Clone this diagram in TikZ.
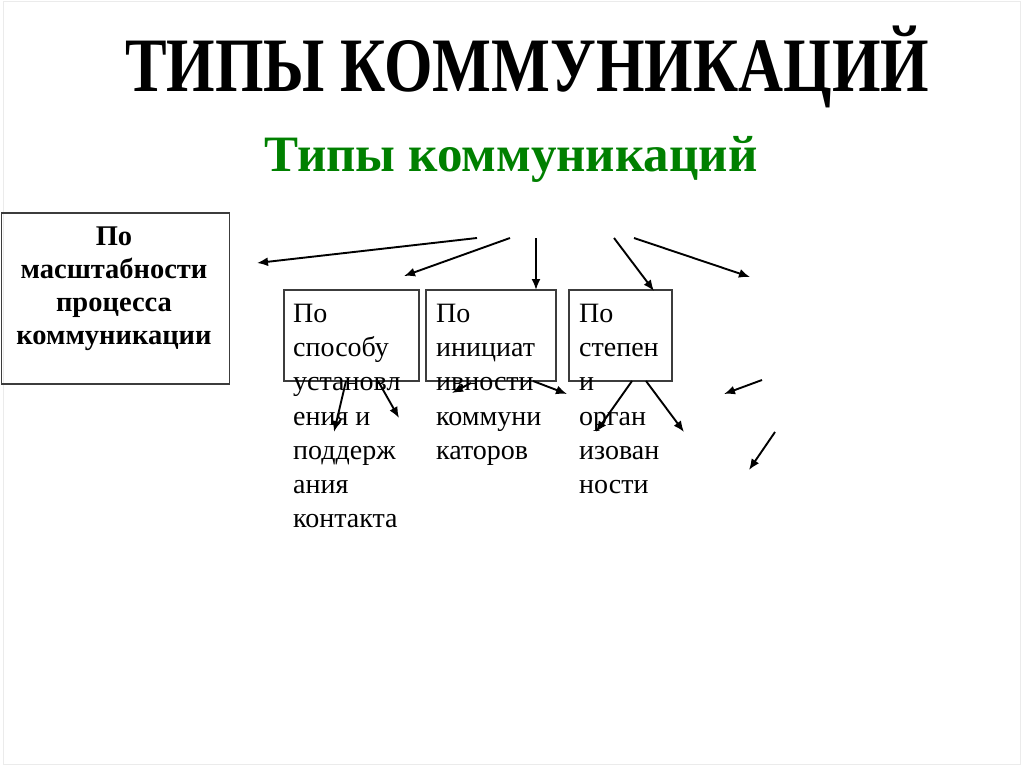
\documentclass[tikz,border=0pt]{standalone}
\usepackage{fontspec}
\setmainfont{Liberation Serif}
\newfontfamily\titlefont{Liberation Serif}[FakeStretch=0.81]
\usetikzlibrary{arrows.meta}
\definecolor{subgreen}{RGB}{0,128,0}
\definecolor{boxline}{RGB}{60,60,60}
\tikzset{
  catbox/.style={draw=boxline, line width=1.8pt, anchor=north west, inner sep=0pt},
  boxtext/.style={font=\fontsize{28}{34.2}\selectfont, align=left, anchor=north west, inner sep=0pt},
  arr/.style={line width=1.9pt, -{Latex[length=11pt,width=9pt]}}
}
\begin{document}
\begin{tikzpicture}[x=1pt,y=-1pt]
\useasboundingbox (0,0) rectangle (1024,767);
\fill[white] (0,0) rectangle (1024,767);
\draw[black!8, line width=1pt] (3,2) rectangle (1020,764);

\node[font=\titlefont\bfseries\fontsize{77}{77}\selectfont, anchor=base] (title) at (527,92) {ТИПЫ КОММУНИКАЦИЙ};
\node[font=\bfseries\fontsize{51}{51}\selectfont, text=subgreen, anchor=base] (sub) at (511,172) {Типы коммуникаций};

% boxes
\node[catbox, minimum width=228pt, minimum height=171pt] (b1) at (0.5,212) {};
\node[catbox, minimum width=135pt, minimum height=91pt] (b2) at (283,289) {};
\node[catbox, minimum width=130pt, minimum height=91pt] (b3) at (425,289) {};
\node[catbox, minimum width=103pt, minimum height=91pt] (b4) at (568,289) {};

% texts
\node[font=\bfseries\fontsize{28.5}{33}\selectfont, align=center, anchor=north, inner sep=0pt] (t1) at (114,227) {По\\масштабности\\процесса\\коммуникации};
\node[boxtext] (t2) at (293,304) {По\\способу\\установл\\ения и\\поддерж\\ания\\контакта};
\node[boxtext] (t3) at (436,304) {По\\инициат\\ивности\\коммуни\\каторов};
\node[boxtext] (t4) at (579,304) {По\\степен\\и\\орган\\изован\\ности};

% arrow end points
\coordinate (a1s) at (477,238); \coordinate (a1e) at (257,263);
\coordinate (a2s) at (510,238); \coordinate (a2e) at (404,276);
\coordinate (a3s) at (536,238); \coordinate (a3e) at (536,290);
\coordinate (a4s) at (614,238); \coordinate (a4e) at (654,291);
\coordinate (a5s) at (634,238); \coordinate (a5e) at (750,277);
\coordinate (c1s) at (346,381); \coordinate (c1e) at (334,432);
\coordinate (c2s) at (378,381); \coordinate (c2e) at (399,418);
\coordinate (c3s) at (471,383); \coordinate (c3e) at (452,393);
\coordinate (c4s) at (533,381); \coordinate (c4e) at (567,394);
\coordinate (c5s) at (632,381); \coordinate (c5e) at (596,432);
\coordinate (c6s) at (646,381); \coordinate (c6e) at (684,432);
\coordinate (c7s) at (762,380); \coordinate (c7e) at (724,394);
\coordinate (c8s) at (775,432); \coordinate (c8e) at (749,470);

\foreach \s/\e in {a1s/a1e,a2s/a2e,a3s/a3e,a4s/a4e,a5s/a5e,c1s/c1e,c2s/c2e,c3s/c3e,c4s/c4e,c5s/c5e,c6s/c6e,c7s/c7e,c8s/c8e}
  \draw[arr] (\s) -- (\e);
\end{tikzpicture}
\end{document}
